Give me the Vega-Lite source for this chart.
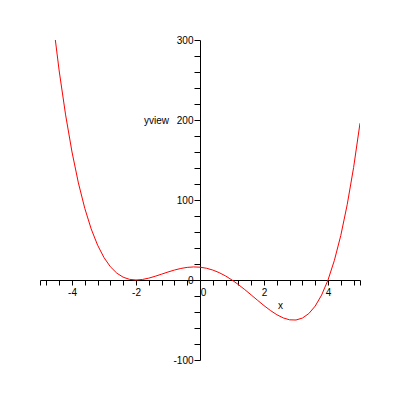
{
  "$schema": "https://vega.github.io/schema/vega-lite/v6.json",
  "width": 320,
  "height": 320,
  "autosize": {"type": "none"},
  "padding": {"left": 40, "top": 40, "right": 40, "bottom": 40},
  "background": "white",
  "config": {
    "view": {"stroke": null},
    "font": "Liberation Sans",
    "axis": {"grid": false, "domainColor": "black", "tickColor": "black", "labelColor": "black", "titleColor": "black", "labelFont": "Liberation Sans", "titleFont": "Liberation Sans", "labelFontSize": 10, "titleFontSize": 10, "titleFontWeight": "normal", "domainWidth": 1, "tickWidth": 1}
  },
  "data": {
    "values": [
      {"x": -5.0, "y": 486},
      {"x": -4.8, "y": 400.15},
      {"x": -4.6, "y": 325.56},
      {"x": -4.4, "y": 261.27},
      {"x": -4.2, "y": 206.38},
      {"x": -4.0, "y": 160},
      {"x": -3.8, "y": 121.31},
      {"x": -3.6, "y": 89.5},
      {"x": -3.4, "y": 63.82},
      {"x": -3.2, "y": 43.55},
      {"x": -3.0, "y": 28},
      {"x": -2.8, "y": 16.54},
      {"x": -2.6, "y": 8.55},
      {"x": -2.4, "y": 3.48},
      {"x": -2.2, "y": 0.79},
      {"x": -2.0, "y": 0},
      {"x": -1.8, "y": 0.65},
      {"x": -1.6, "y": 2.33},
      {"x": -1.4, "y": 4.67},
      {"x": -1.2, "y": 7.32},
      {"x": -1.0, "y": 10},
      {"x": -0.8, "y": 12.44},
      {"x": -0.6, "y": 14.43},
      {"x": -0.4, "y": 15.77},
      {"x": -0.2, "y": 16.33},
      {"x": 0.0, "y": 16},
      {"x": 0.2, "y": 14.71},
      {"x": 0.4, "y": 12.44},
      {"x": 0.6, "y": 9.19},
      {"x": 0.8, "y": 5.02},
      {"x": 1.0, "y": 0},
      {"x": 1.2, "y": -5.73},
      {"x": 1.4, "y": -12.02},
      {"x": 1.6, "y": -18.66},
      {"x": 1.8, "y": -25.41},
      {"x": 2.0, "y": -32},
      {"x": 2.2, "y": -38.1},
      {"x": 2.4, "y": -43.37},
      {"x": 2.6, "y": -47.4},
      {"x": 2.8, "y": -49.77},
      {"x": 3.0, "y": -50},
      {"x": 3.2, "y": -47.59},
      {"x": 3.4, "y": -41.99},
      {"x": 3.6, "y": -32.61},
      {"x": 3.8, "y": -18.84},
      {"x": 4.0, "y": 0},
      {"x": 4.2, "y": 24.6},
      {"x": 4.4, "y": 55.71},
      {"x": 4.6, "y": 94.09},
      {"x": 4.8, "y": 140.57},
      {"x": 5.0, "y": 196}
    ]
  },
  "mark": {"type": "line", "color": "#ff0000", "strokeWidth": 1, "clip": true, "interpolate": "linear"},
  "encoding": {
    "x": {
      "field": "x",
      "type": "quantitative",
      "scale": {"domain": [-5, 5], "nice": false, "zero": false},
      "axis": {
        "orient": "bottom",
        "offset": -80,
        "values": [-5, -4.8, -4.4, -4, -3.6, -3.2, -2.8, -2.4, -2, -1.6, -1.2, -0.8, -0.4, 0, 0.4, 0.8, 1.2, 1.6, 2, 2.4, 2.8, 3.2, 3.6, 4, 4.4, 4.8, 5],
        "labelExpr": "(datum.value == -4 || datum.value == -2 || datum.value == 0 || datum.value == 2 || datum.value == 4) ? ('' + datum.value) : ''",
        "labelOffset": {"condition": {"test": "datum.value == 0", "value": 3}, "value": 0},
        "tickSize": 5,
        "labelPadding": 2,
        "labelFlush": false,
        "labelOverlap": false,
        "title": "x",
        "titleX": 240,
        "titleY": 25,
        "titleAlign": "center",
        "titleBaseline": "middle"
      }
    },
    "y": {
      "field": "y",
      "type": "quantitative",
      "scale": {"domain": [-100, 300], "nice": false, "zero": false},
      "axis": {
        "orient": "left",
        "offset": -160,
        "values": [-100, -80, -60, -40, -20, 0, 20, 40, 60, 80, 100, 120, 140, 160, 180, 200, 220, 240, 260, 280, 300],
        "labelExpr": "(datum.value % 100 == 0) ? ('' + datum.value) : ''",
        "tickSize": 6,
        "labelPadding": 1,
        "labelFlush": false,
        "labelOverlap": false,
        "title": "yview",
        "titleAngle": 0,
        "titleX": -44,
        "titleY": 80,
        "titleAlign": "center",
        "titleBaseline": "middle"
      }
    }
  }
}
